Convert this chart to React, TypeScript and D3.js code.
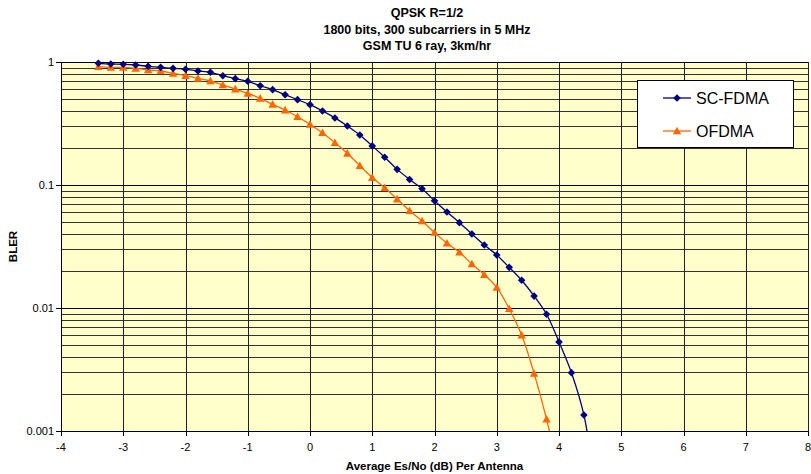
import React, { useEffect, useRef } from 'react';
import * as d3 from 'd3';

// Es/No points (dB) and BLER
const scFdmaX = [-3.4, -3.2, -3.0, -2.8, -2.6, -2.4, -2.2, -2.0, -1.8, -1.6, -1.4, -1.2, -1.0, -0.8, -0.6, -0.4, -0.2, 0.0,
  0.2, 0.4, 0.6, 0.8, 1.0, 1.2, 1.4, 1.6, 1.8, 2.0, 2.2, 2.4, 2.6, 2.8, 3.0, 3.2, 3.4, 3.6, 3.8, 4.0, 4.2, 4.4, 4.6];
const scFdmaBler = [0.976, 0.963, 0.958, 0.945, 0.923, 0.905, 0.888, 0.872, 0.845, 0.825, 0.774, 0.732, 0.697, 0.641, 0.596, 0.542, 0.494, 0.45,
  0.40, 0.351, 0.302, 0.255, 0.208, 0.168, 0.134, 0.111, 0.0933, 0.0745, 0.0603, 0.0494, 0.040, 0.0325, 0.027, 0.0214, 0.0168, 0.0125, 0.0089, 0.0053, 0.00298, 0.00135, 0.0003];

const ofdmaX = [-3.4, -3.2, -3.0, -2.8, -2.6, -2.4, -2.2, -2.0, -1.8, -1.6, -1.4, -1.2, -1.0, -0.8, -0.6, -0.4, -0.2, 0.0,
  0.2, 0.4, 0.6, 0.8, 1.0, 1.2, 1.4, 1.6, 1.8, 2.0, 2.2, 2.4, 2.6, 2.8, 3.0, 3.2, 3.4, 3.6, 3.8, 4.0];
const ofdmaBler = [0.916, 0.905, 0.905, 0.888, 0.861, 0.845, 0.809, 0.774, 0.737, 0.701, 0.650, 0.603, 0.556, 0.507, 0.453, 0.407, 0.359, 0.311,
  0.266, 0.221, 0.181, 0.1435, 0.115, 0.095, 0.0769, 0.0618, 0.051, 0.0412, 0.0336, 0.0284, 0.0228, 0.0187, 0.0147, 0.00987, 0.00603, 0.00294, 0.00125, 0.00045];

const xTicks = [-4, -3, -2, -1, 0, 1, 2, 3, 4, 5, 6, 7, 8];
const yTicks = [1, 0.1, 0.01, 0.001];
const yTickLabels = ['1', '0.1', '0.01', '0.001'];
const titleLines = ['QPSK R=1/2', '1800 bits, 300 subcarriers in 5 MHz', 'GSM TU 6 ray, 3km/hr'];
const seriesNames = ['SC-FDMA', 'OFDMA'];

export default function App() {
  const ref = useRef<SVGSVGElement | null>(null);

  useEffect(() => {
    if (!ref.current) return;
    const width = 811, height = 474;
    const left = 61, right = 808, top = 62, bottom = 431;

    const svg = d3.select(ref.current);
    svg.selectAll('*').remove();

    const x = d3.scaleLinear().domain([-4, 8]).range([left, right]);
    const y = d3.scaleLog().domain([0.001, 1]).range([bottom, top]);

    svg.append('rect').attr('width', width).attr('height', height).attr('fill', '#fff');

    // plot area
    svg.append('rect')
      .attr('x', left).attr('y', top)
      .attr('width', right - left).attr('height', bottom - top)
      .attr('fill', '#FFFFCC');

    // horizontal grid: majors and minors of the log axis
    const minor: number[] = [];
    [0.001, 0.01, 0.1].forEach(d => {
      for (let k = 2; k <= 9; k++) minor.push(d * k);
    });
    const grid = svg.append('g').attr('shape-rendering', 'crispEdges');
    grid.selectAll('line.minor').data(minor).join('line')
      .attr('x1', left).attr('x2', right)
      .attr('y1', d => Math.round(y(d)) + 0.5).attr('y2', d => Math.round(y(d)) + 0.5)
      .attr('stroke', '#333').attr('stroke-width', 1);
    grid.selectAll('line.major').data(yTicks).join('line')
      .attr('x1', left).attr('x2', right)
      .attr('y1', d => Math.round(y(d)) + 0.5).attr('y2', d => Math.round(y(d)) + 0.5)
      .attr('stroke', '#000').attr('stroke-width', 1);
    grid.selectAll('line.v').data(xTicks.slice(1)).join('line')
      .attr('y1', top).attr('y2', bottom)
      .attr('x1', d => Math.round(x(d)) + 0.5).attr('x2', d => Math.round(x(d)) + 0.5)
      .attr('stroke', '#222').attr('stroke-width', 1);

    // axes
    const axes = svg.append('g').attr('shape-rendering', 'crispEdges');
    axes.append('line').attr('x1', left + 0.5).attr('x2', left + 0.5).attr('y1', top).attr('y2', bottom + 0.5).attr('stroke', '#000');
    axes.append('line').attr('x1', left).attr('x2', right).attr('y1', bottom + 0.5).attr('y2', bottom + 0.5).attr('stroke', '#000');
    axes.selectAll('line.yt').data(yTicks).join('line')
      .attr('x1', left - 5).attr('x2', left)
      .attr('y1', d => Math.round(y(d)) + 0.5).attr('y2', d => Math.round(y(d)) + 0.5)
      .attr('stroke', '#000');
    axes.selectAll('line.xt').data(xTicks).join('line')
      .attr('y1', bottom).attr('y2', bottom + 5)
      .attr('x1', d => Math.round(x(d)) + 0.5).attr('x2', d => Math.round(x(d)) + 0.5)
      .attr('stroke', '#000');

    const font = 'Arial, "Liberation Sans", sans-serif';
    const narrow = '"Liberation Sans Narrow", "Arial Narrow", Arial, sans-serif';

    svg.append('g').selectAll('text').data(yTicks).join('text')
      .attr('x', left - 7).attr('y', d => y(d)).attr('dy', '0.35em')
      .attr('text-anchor', 'end').attr('font-family', font).attr('font-size', 11)
      .text((d, i) => yTickLabels[i]);
    svg.append('g').selectAll('text').data(xTicks).join('text')
      .attr('x', d => x(d)).attr('y', bottom + 20)
      .attr('text-anchor', 'middle').attr('font-family', font).attr('font-size', 11)
      .text(d => String(d));

    // titles
    svg.append('g').selectAll('text').data(titleLines).join('text')
      .attr('x', 427).attr('y', (d, i) => 17 + i * 16.5)
      .attr('text-anchor', 'middle').attr('font-family', narrow).attr('font-weight', 'bold').attr('font-size', 12.5)
      .text(d => d);
    svg.append('text')
      .attr('x', (left + right) / 2).attr('y', 470)
      .attr('text-anchor', 'middle').attr('font-family', narrow).attr('font-weight', 'bold').attr('font-size', 11.5)
      .text('Average Es/No (dB) Per Antenna');
    svg.append('text')
      .attr('transform', `translate(17,${(top + bottom) / 2}) rotate(-90)`)
      .attr('text-anchor', 'middle').attr('font-family', narrow).attr('font-weight', 'bold').attr('font-size', 11.5)
      .text('BLER');

    // series
    svg.append('clipPath').attr('id', 'plotClip').append('rect')
      .attr('x', left).attr('y', top - 6).attr('width', right - left).attr('height', bottom - top + 6);

    const line = d3.line<[number, number]>()
      .x(d => x(d[0])).y(d => y(d[1]))
      .curve(d3.curveCatmullRom.alpha(0.5));

    const sc = scFdmaX.map((v, i) => [v, scFdmaBler[i]] as [number, number]);
    const of = ofdmaX.map((v, i) => [v, ofdmaBler[i]] as [number, number]);
    const plot = svg.append('g').attr('clip-path', 'url(#plotClip)');

    const diamond = (s: number) => `M0,${-s}L${s},0L0,${s}L${-s},0Z`;
    const triangle = (s: number) => `M0,${-s}L${s},${s * 0.8}L${-s},${s * 0.8}Z`;

    plot.append('path').datum(of).attr('d', line).attr('fill', 'none').attr('stroke', '#FF6600').attr('stroke-width', 1.3);
    plot.selectAll('path.tri').data(of).join('path')
      .attr('transform', d => `translate(${x(d[0])},${y(d[1])})`)
      .attr('d', triangle(4.2)).attr('fill', '#FF6600');

    plot.append('path').datum(sc).attr('d', line).attr('fill', 'none').attr('stroke', '#000080').attr('stroke-width', 1.3);
    plot.selectAll('path.dia').data(sc).join('path')
      .attr('transform', d => `translate(${x(d[0])},${y(d[1])})`)
      .attr('d', diamond(3.8)).attr('fill', '#000080');

    // legend
    const lg = svg.append('g');
    lg.append('rect').attr('x', 637.5).attr('y', 80.5).attr('width', 156).attr('height', 67)
      .attr('fill', '#fff').attr('stroke', '#000').attr('shape-rendering', 'crispEdges');
    const colors = ['#000080', '#FF6600'];
    seriesNames.forEach((name, i) => {
      const cy = 98 + i * 33;
      lg.append('line').attr('x1', 663).attr('x2', 691).attr('y1', cy).attr('y2', cy)
        .attr('stroke', colors[i]).attr('stroke-width', 1.3);
      lg.append('path').attr('transform', `translate(677,${cy})`)
        .attr('d', i === 0 ? diamond(3.8) : triangle(4.2)).attr('fill', colors[i]);
      lg.append('text').attr('x', 696).attr('y', cy).attr('dy', '0.36em')
        .attr('font-family', font).attr('font-size', 16).text(name);
    });
  }, []);

  return (
    <svg ref={ref} width={811} height={474} style={{ position: 'absolute', left: 0, top: 0, display: 'block' }} />
  );
}
